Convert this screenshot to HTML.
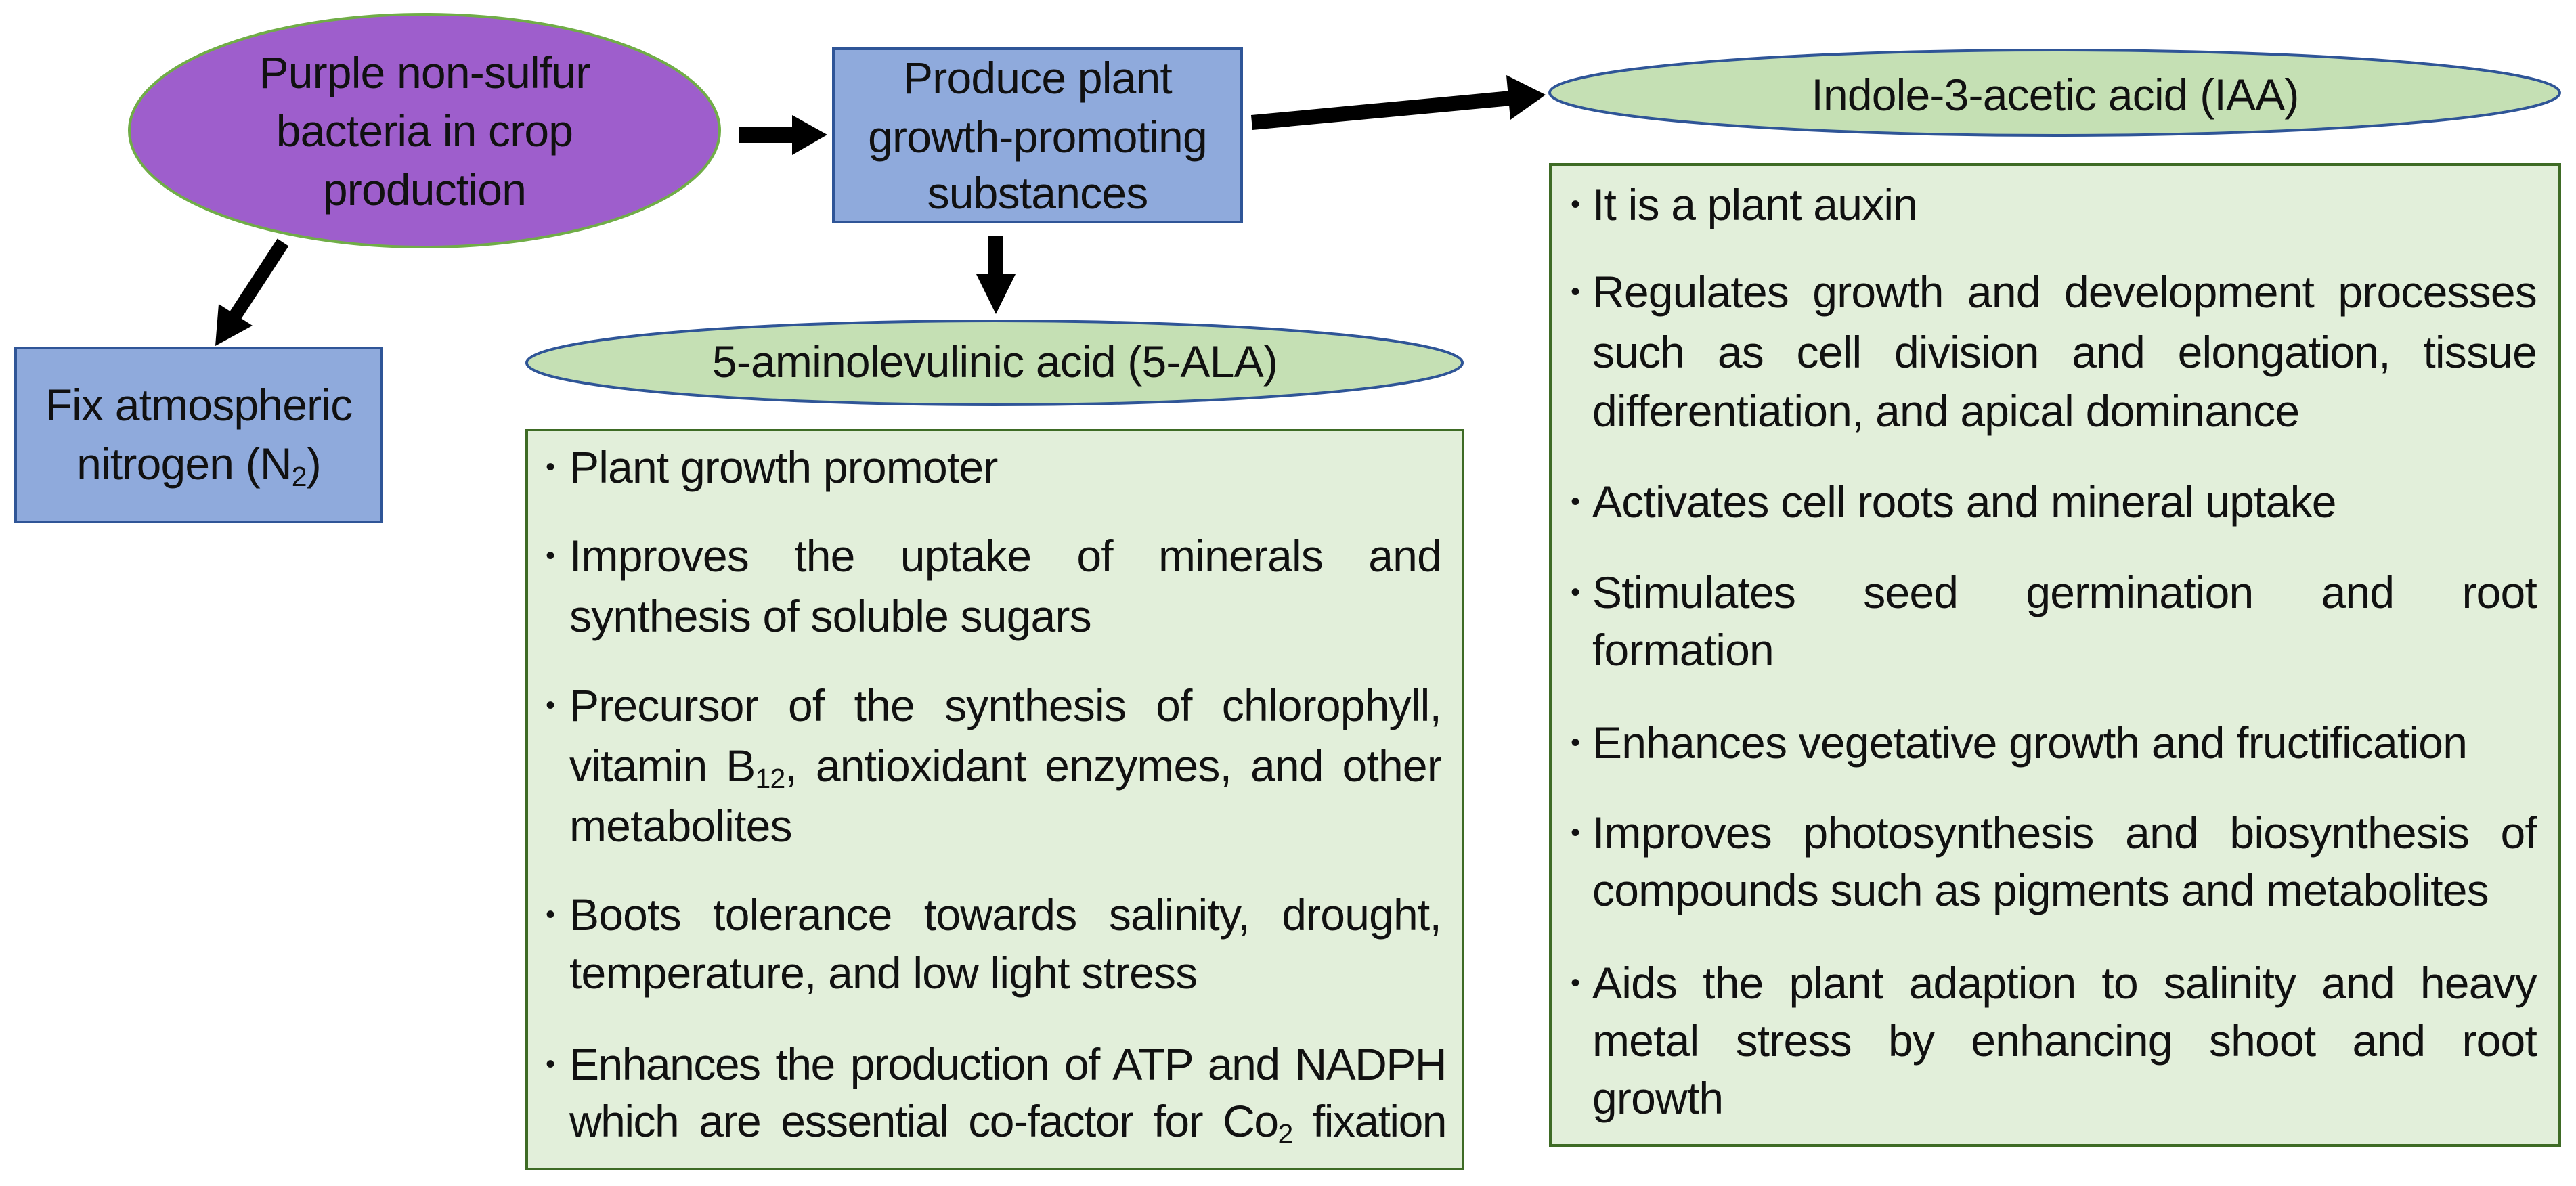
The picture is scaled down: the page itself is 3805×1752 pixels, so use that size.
<!DOCTYPE html>
<html><head><meta charset="utf-8">
<style>
html,body{margin:0;padding:0;background:#fff;}
#c{position:relative;width:3805px;height:1752px;overflow:hidden;font-family:"Liberation Sans",Arial,sans-serif;color:#111;}
svg{position:absolute;left:0;top:0;}
.t{position:absolute;font-size:66px;line-height:88px;height:88px;white-space:nowrap;letter-spacing:-0.8px;}
.c{text-align:center;}
.j{text-align:justify;text-align-last:justify;white-space:normal;}
.b{position:absolute;font-size:40px;line-height:88px;height:88px;}
sub{font-size:0.62em;vertical-align:-0.25em;line-height:0;}
</style></head><body><div id="c">
<svg width="3805" height="1752" viewBox="0 0 3805 1752">
  <ellipse cx="627" cy="193" rx="436" ry="172" fill="#9e5ecc" stroke="#70ad47" stroke-width="4"/>
  <rect x="1231" y="72" width="603" height="256" fill="#8faadc" stroke="#2f5597" stroke-width="4"/>
  <rect x="23" y="514" width="541" height="257" fill="#8faadc" stroke="#2f5597" stroke-width="4"/>
  <ellipse cx="1469" cy="536" rx="691" ry="62" fill="#c5e0b4" stroke="#2f5597" stroke-width="4"/>
  <ellipse cx="3035" cy="137" rx="746" ry="63" fill="#c5e0b4" stroke="#2f5597" stroke-width="4"/>
  <rect x="778" y="635" width="1383" height="1092" fill="#e2efda" stroke="#3e6b25" stroke-width="4"/>
  <rect x="2290" y="243" width="1491" height="1449" fill="#e2efda" stroke="#3e6b25" stroke-width="4"/>
  <polygon points="1091,187 1170,187 1170,170 1222,199 1170,229 1170,211 1091,211" fill="#000"/>
  <polygon points="1460,349 1481,349 1481,405 1500,405 1471,464 1442,405 1460,405" fill="#000"/>
  <line x1="418" y1="358" x2="345" y2="470" stroke="#000" stroke-width="20"/>
  <polygon points="318,511 373,481 323,449" fill="#000"/>
  <line x1="1849" y1="181" x2="2232" y2="145" stroke="#000" stroke-width="22"/>
  <polygon points="2283,140 2231,177 2225,111" fill="#000"/>
</svg>

<div class="t c" style="left:327px;width:600px;top:63px;">Purple non-sulfur</div>
<div class="t c" style="left:327px;width:600px;top:149px;">bacteria in crop</div>
<div class="t c" style="left:327px;width:600px;top:236px;">production</div>

<div class="t c" style="left:1231px;width:603px;top:71px;">Produce plant</div>
<div class="t c" style="left:1231px;width:603px;top:158px;">growth-promoting</div>
<div class="t c" style="left:1231px;width:603px;top:241px;">substances</div>

<div class="t c" style="left:23px;width:541px;top:554px;">Fix atmospheric</div>
<div class="t c" style="left:23px;width:541px;top:641px;">nitrogen (N<sub>2</sub>)</div>

<div class="t c" style="left:778px;width:1383px;top:490px;">5-aminolevulinic acid (5-ALA)</div>
<div class="t c" style="left:2290px;width:1491px;top:96px;">Indole-3-acetic acid (IAA)</div>

<div class="b" style="left:806px;top:646px;">•</div>
<div class="t" style="left:841px;top:646px;">Plant growth promoter</div>
<div class="b" style="left:806px;top:777px;">•</div>
<div class="t j" style="left:841px;width:1288px;top:777px;">Improves the uptake of minerals and</div>
<div class="t" style="left:841px;top:866px;">synthesis of soluble sugars</div>
<div class="b" style="left:806px;top:998px;">•</div>
<div class="t j" style="left:841px;width:1288px;top:998px;">Precursor of the synthesis of chlorophyll,</div>
<div class="t j" style="left:841px;width:1288px;top:1087px;">vitamin B<sub>12</sub>, antioxidant enzymes, and other</div>
<div class="t" style="left:841px;top:1176px;">metabolites</div>
<div class="b" style="left:806px;top:1307px;">•</div>
<div class="t j" style="left:841px;width:1288px;top:1307px;">Boots tolerance towards salinity, drought,</div>
<div class="t" style="left:841px;top:1393px;">temperature, and low light stress</div>
<div class="b" style="left:806px;top:1528px;">•</div>
<div class="t j" style="left:841px;width:1295px;top:1528px;letter-spacing:-1.5px;">Enhances the production of ATP and NADPH</div>
<div class="t j" style="left:841px;width:1295px;top:1612px;letter-spacing:-1.5px;">which are essential co-factor for Co<sub>2</sub> fixation</div>

<div class="b" style="left:2320px;top:258px;">•</div>
<div class="t" style="left:2352px;top:258px;">It is a plant auxin</div>
<div class="b" style="left:2320px;top:387px;">•</div>
<div class="t j" style="left:2352px;width:1395px;top:387px;">Regulates growth and development processes</div>
<div class="t j" style="left:2352px;width:1395px;top:476px;">such as cell division and elongation, tissue</div>
<div class="t" style="left:2352px;top:563px;">differentiation, and apical dominance</div>
<div class="b" style="left:2320px;top:697px;">•</div>
<div class="t" style="left:2352px;top:697px;">Activates cell roots and mineral uptake</div>
<div class="b" style="left:2320px;top:831px;">•</div>
<div class="t j" style="left:2352px;width:1395px;top:831px;">Stimulates seed germination and root</div>
<div class="t" style="left:2352px;top:916px;">formation</div>
<div class="b" style="left:2320px;top:1053px;">•</div>
<div class="t" style="left:2352px;top:1053px;">Enhances vegetative growth and fructification</div>
<div class="b" style="left:2320px;top:1186px;">•</div>
<div class="t j" style="left:2352px;width:1395px;top:1186px;">Improves photosynthesis and biosynthesis of</div>
<div class="t" style="left:2352px;top:1271px;">compounds such as pigments and metabolites</div>
<div class="b" style="left:2320px;top:1408px;">•</div>
<div class="t j" style="left:2352px;width:1395px;top:1408px;">Aids the plant adaption to salinity and heavy</div>
<div class="t j" style="left:2352px;width:1395px;top:1493px;">metal stress by enhancing shoot and root</div>
<div class="t" style="left:2352px;top:1578px;">growth</div>
</div></body></html>
